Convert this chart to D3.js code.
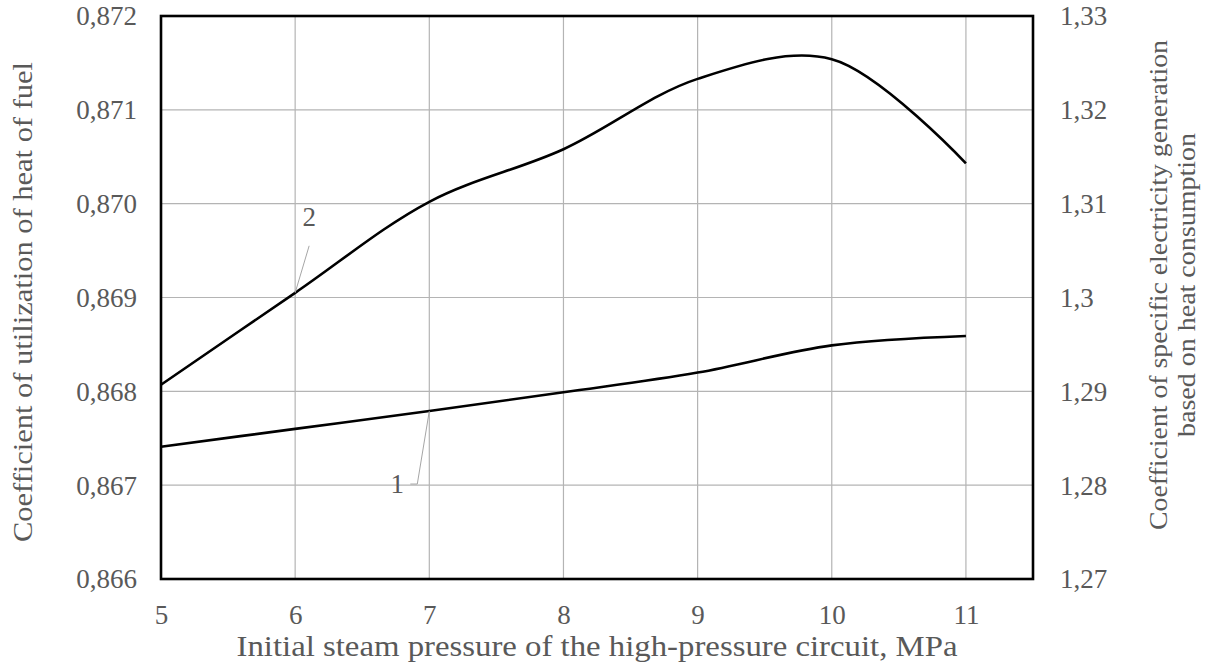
<!DOCTYPE html>
<html>
<head>
<meta charset="utf-8">
<script src="https://cdn.jsdelivr.net/npm/d3@7"></script>
<style>
  html, body { margin: 0; padding: 0; background: #fff; }
  svg { display: block; }
</style>
</head>
<body>
<svg id="chart" width="1210" height="672"></svg>
<script>
// ---- data ----
const pressure = [5, 6, 7, 8, 9, 10, 11];                       // MPa
const fuelHeatUtil = [0.86741, 0.86760, 0.86779, 0.86799, 0.86820, 0.86849, 0.86859]; // curve 1 (left axis)
const specElecGen = [1.2907, 1.3005, 1.3102, 1.3158, 1.3233, 1.3254, 1.3143];        // curve 2 (right axis)
const xTicks = [5, 6, 7, 8, 9, 10, 11];
const leftTicks = [0.866, 0.867, 0.868, 0.869, 0.870, 0.871, 0.872];
const leftTickLabels = ["0,866", "0,867", "0,868", "0,869", "0,870", "0,871", "0,872"];
const rightTicks = [1.27, 1.28, 1.29, 1.30, 1.31, 1.32, 1.33];
const rightTickLabels = ["1,27", "1,28", "1,29", "1,3", "1,31", "1,32", "1,33"];
const xTitle = "Initial steam pressure of the high-pressure circuit, MPa";
const leftTitle = "Coefficient of utilization of heat of fuel";
const rightTitle = ["Coefficient of specific electricity generation", "based on heat consumption"];

// ---- layout ----
const FONT = '"Liberation Serif"';
const TXT = "#595959";
const L = 161, R = 1033, T = 16, B = 579;
const svg = d3.select("#chart");
const x = d3.scaleLinear().domain([5, 11.5]).range([L, R]);
const yL = d3.scaleLinear().domain([0.866, 0.872]).range([B, T]);
const yR = d3.scaleLinear().domain([1.27, 1.33]).range([B, T]);
const FS = 27;

function styleText(sel, size) {
  sel.style("font-family", FONT).style("font-size", size + "px").style("fill", TXT);
}

// gridlines
const grid = svg.append("g").attr("stroke", "#b4b4b4").attr("stroke-width", 1.2);
grid.selectAll("line.v").data(xTicks).join("line")
  .attr("x1", d => x(d)).attr("x2", d => x(d)).attr("y1", T).attr("y2", B);
grid.selectAll("line.h").data(leftTicks).join("line")
  .attr("x1", L).attr("x2", R).attr("y1", d => yL(d)).attr("y2", d => yL(d));

// axes (labels only)
const xAxis = d3.axisBottom(x).tickValues(xTicks).tickSize(0).tickPadding(0).tickFormat(d3.format("d"));
const gx = svg.append("g").attr("transform", `translate(0,${B})`).call(xAxis);
gx.select(".domain").remove();
gx.selectAll("text").attr("y", 45).attr("dy", 0).call(styleText, FS);

const lAxis = d3.axisLeft(yL).tickValues(leftTicks).tickSize(0).tickPadding(0)
  .tickFormat((d, i) => leftTickLabels[i]);
const gl = svg.append("g").attr("transform", `translate(137,0)`).call(lAxis);
gl.select(".domain").remove();
gl.selectAll("text").attr("x", 0).attr("dy", "0.33em").call(styleText, FS);

const rAxis = d3.axisRight(yR).tickValues(rightTicks).tickSize(0).tickPadding(0)
  .tickFormat((d, i) => rightTickLabels[i]);
const gr = svg.append("g").attr("transform", `translate(1060,0)`).call(rAxis);
gr.select(".domain").remove();
gr.selectAll("text").attr("x", 0).attr("dy", "0.33em").call(styleText, FS);

// lines
const line1 = d3.line().x((d, i) => x(pressure[i])).y(d => yL(d)).curve(d3.curveCatmullRom.alpha(0.5));
const line2 = d3.line().x((d, i) => x(pressure[i])).y(d => yR(d)).curve(d3.curveCatmullRom.alpha(0.5));
svg.append("path").attr("d", line1(fuelHeatUtil)).attr("fill", "none").attr("stroke", "#000").attr("stroke-width", 2.6);
svg.append("path").attr("d", line2(specElecGen)).attr("fill", "none").attr("stroke", "#000").attr("stroke-width", 2.6);

// frame
svg.append("rect").attr("x", L).attr("y", T).attr("width", R - L).attr("height", B - T)
  .attr("fill", "none").attr("stroke", "#000").attr("stroke-width", 2.6);

// curve labels with leaders
const lead = svg.append("g").attr("stroke", "#a6a6a6").attr("stroke-width", 1).attr("fill", "none");
const p2 = [x(pressure[1]), yR(specElecGen[1])];
lead.append("path").attr("d", `M${p2[0] + 14},${p2[1] - 47} L${p2[0]},${p2[1]}`);
svg.append("text").attr("x", p2[0] + 14).attr("y", p2[1] - 67).attr("text-anchor", "middle")
  .call(styleText, FS).text("2");
const p1 = [x(pressure[2]), yL(fuelHeatUtil[2])];
lead.append("path").attr("d", `M${p1[0] - 19},${p1[1] + 73} L${p1[0] - 12},${p1[1] + 73} L${p1[0]},${p1[1]}`);
svg.append("text").attr("x", p1[0] - 32).attr("y", p1[1] + 82).attr("text-anchor", "middle")
  .call(styleText, FS).text("1");

// titles
svg.append("text").attr("x", 597).attr("y", 656).attr("text-anchor", "middle")
  .call(styleText, 30).attr("textLength", 721).attr("lengthAdjust", "spacingAndGlyphs").text(xTitle);
svg.append("text").attr("transform", "translate(32,302) rotate(-90)").attr("text-anchor", "middle")
  .call(styleText, FS).attr("textLength", 480).attr("lengthAdjust", "spacingAndGlyphs").text(leftTitle);
svg.append("text").attr("transform", "translate(1167,285) rotate(-90)").attr("text-anchor", "middle")
  .call(styleText, 26).attr("textLength", 490).attr("lengthAdjust", "spacingAndGlyphs").text(rightTitle[0]);
svg.append("text").attr("transform", "translate(1195,285) rotate(-90)").attr("text-anchor", "middle")
  .call(styleText, 26).attr("textLength", 304).attr("lengthAdjust", "spacingAndGlyphs").text(rightTitle[1]);
</script>
</body>
</html>
